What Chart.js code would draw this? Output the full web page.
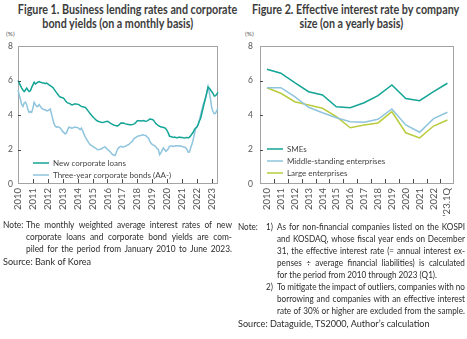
<!DOCTYPE html>
<html>
<head>
<meta charset="utf-8">
<script src="https://cdn.jsdelivr.net/npm/chart.js@4.4.0/dist/chart.umd.min.js"></script>
<style>
  body { margin: 0; width: 467px; height: 339px; background: #fff; position: relative; overflow: hidden;
         font-family: Lato, "Open Sans", sans-serif; color: #2b2b2b; }
  canvas { position: absolute; }
  .t { position: absolute; white-space: nowrap; }
  .title { font-weight: bold; font-size: 12.5px; color: #3c3c3c; text-align: center; line-height: 14px; }
  .title span { display: inline-block; transform: scaleX(0.86); transform-origin: center; }
  .unit { font-size: 6.5px; color: #555; }
  .line { position: absolute; white-space: nowrap; font-size: 9.6px; line-height: 12px; transform-origin: left top; }
  .line.just { display: flex; justify-content: space-between; }
</style>
</head>
<body>

<div class="t title" style="left:0; width:235px; top:3px;"><span>Figure 1. Business lending rates and corporate</span><br><span>bond yields (on a monthly basis)</span></div>
<div class="t title" style="left:235px; width:232px; top:3px;"><span>Figure 2. Effective interest rate by company</span><br><span>size (on a yearly basis)</span></div>

<div class="t unit" style="left:6px; top:30px;">(%)</div>
<div class="t unit" style="left:245px; top:30px;">(%)</div>

<canvas id="lending" width="230" height="192" style="left:0; top:30px;"></canvas>
<canvas id="effective" width="228" height="192" style="left:235px; top:30px;"></canvas>

<div id="notes"></div>

<script>
// monthly series, Jan 2010 - Jun 2023
var years = ['2010', '2011', '2012', '2013', '2014', '2015', '2016',
             '2017', '2018', '2019', '2020', '2021', '2022', '2023'];

var loanRates = [
  6.00, 5.85, 5.70, 5.56, 5.45, 5.36, 5.45, 5.56, 5.45, 5.36, 5.40, 5.60,
  5.75, 5.90, 5.80, 5.85, 5.90, 5.94, 5.90, 5.88, 5.85, 5.85, 5.82, 5.85,
  5.80, 5.75, 5.70, 5.65, 5.60, 5.50, 5.40, 5.30, 5.20, 5.10, 5.04, 5.02,
  5.00, 4.95, 4.85, 4.75, 4.70, 4.68, 4.65, 4.60, 4.60, 4.62, 4.65, 4.63,
  4.62, 4.60, 4.55, 4.50, 4.48, 4.46, 4.45, 4.38, 4.28, 4.18, 4.08, 4.00,
  3.92, 3.84, 3.77, 3.70, 3.65, 3.62, 3.60, 3.58, 3.57, 3.58, 3.60, 3.62,
  3.63, 3.60, 3.55, 3.50, 3.46, 3.42, 3.40, 3.38, 3.37, 3.40, 3.48, 3.54,
  3.52, 3.54, 3.50, 3.47, 3.46, 3.45, 3.44, 3.44, 3.45, 3.47, 3.50, 3.58,
  3.67, 3.66, 3.67, 3.65, 3.66, 3.68, 3.65, 3.64, 3.66, 3.70, 3.77, 3.76,
  3.74, 3.70, 3.60, 3.50, 3.45, 3.38, 3.35, 3.30, 3.30, 3.28, 3.26, 3.20,
  3.10, 2.95, 2.76, 2.75, 2.73, 2.70, 2.72, 2.70, 2.68, 2.70, 2.72, 2.70,
  2.70, 2.68, 2.67, 2.68, 2.70, 2.67, 2.72, 2.80, 2.90, 3.00, 3.15, 3.25,
  3.30, 3.45, 3.65, 3.80, 4.10, 4.40, 4.70, 5.00, 5.30, 5.62, 5.55, 5.45,
  5.35, 5.25, 5.10, 5.12, 5.20, 5.33
];

var bondYields = [
  5.46, 5.17, 4.90, 4.60, 4.50, 4.70, 4.75, 4.60, 4.30, 4.15, 4.20, 4.15,
  4.40, 4.73, 4.60, 4.50, 4.50, 4.60, 4.50, 4.40, 4.35, 4.30, 4.30, 4.25,
  4.25, 4.30, 4.35, 4.05, 3.75, 3.50, 3.35, 3.30, 3.32, 3.30, 3.25, 3.15,
  3.05, 2.98, 2.90, 2.95, 3.15, 3.30, 3.28, 3.24, 3.25, 3.28, 3.30, 3.28,
  3.28, 3.22, 3.15, 3.24, 3.10, 2.92, 2.75, 2.62, 2.50, 2.38, 2.28, 2.24,
  2.20, 2.14, 2.09, 2.05, 2.00, 1.99, 2.02, 2.03, 2.08, 2.12, 2.15, 2.08,
  2.00, 1.95, 1.88, 1.80, 1.72, 1.68, 1.65, 1.80, 2.00, 2.10, 2.15, 2.18,
  2.15, 2.15, 2.18, 2.20, 2.25, 2.28, 2.35, 2.42, 2.47, 2.60, 2.67, 2.70,
  2.76, 2.78, 2.80, 2.82, 2.85, 2.84, 2.82, 2.80, 2.72, 2.67, 2.50, 2.38,
  2.30, 2.25, 2.22, 2.15, 2.05, 2.00, 1.70, 1.80, 1.95, 2.09, 2.00, 1.90,
  1.95, 2.05, 2.18, 2.20, 2.20, 2.18, 2.20, 2.22, 2.22, 2.20, 2.22, 2.20,
  2.18, 2.15, 2.15, 2.10, 2.00, 1.84, 1.85, 2.10, 2.30, 2.57, 2.90, 3.20,
  3.30, 3.44, 3.70, 4.00, 4.30, 4.60, 4.80, 5.00, 5.30, 5.65, 5.30, 4.90,
  4.40, 4.20, 4.07, 4.10, 4.25, 4.40
];

// yearly series
var periods = ['2010', '2011', '2012', '2013', '2014', '2015', '2016',
               '2017', '2018', '2019', '2020', '2021', '2022', '\u201923.1Q'];
var smeRates    = [6.65, 6.42, 5.87, 5.35, 5.16, 4.48, 4.42, 4.71, 5.12, 5.74, 4.95, 4.83, 5.35, 5.84];
var middleRates = [5.58, 5.58, 5.06, 4.45, 4.13, 3.84, 3.61, 3.58, 3.75, 4.35, 3.42, 3.00, 3.79, 4.16];
var largeRates  = [5.58, 5.26, 4.77, 4.58, 4.39, 3.90, 3.26, 3.42, 3.54, 4.19, 2.97, 2.67, 3.36, 3.71];

var TEAL = '#14a596';
var SKY = '#8ec4dd';
var LIME = '#b9cc3e';

var monthLabels = [];
years.forEach(function (yr) {
  for (var m = 1; m <= 12; m++) monthLabels.push(yr + '.' + (m < 10 ? '0' + m : m));
});
monthLabels = monthLabels.slice(0, loanRates.length);

// footnote lines: [text, left, top, width, justified, scaleX]
var noteLines = [
  ['Note:', 3, 219, 0, false, 0.87],
  ['The monthly weighted average interest rates of new', 26, 219, 206, true, 0.87],
  ['corporate loans and corporate bond yields are com-', 26, 231, 206, true, 0.87],
  ['piled for the period from January 2010 to June 2023.', 26, 243, 206, true, 0.87],
  ['Source: Bank of Korea', 3, 256, 0, false, 0.95],
  ['Note:', 238, 221, 0, false, 0.85],
  ['1)', 266, 221, 0, false, 0.85],
  ['As for non-financial companies listed on the KOSPI', 277, 221, 188, true, 0.85],
  ['and KOSDAQ, whose fiscal year ends on December', 277, 233, 188, true, 0.85],
  ['31, the effective interest rate (= annual interest ex-', 277, 245, 188, true, 0.85],
  ['penses \u00f7 average financial liabilities) is calculated', 277, 257, 188, true, 0.85],
  ['for the period from 2010 through 2023 (Q1).', 277, 269, 0, false, 0.85],
  ['2)', 266, 281, 0, false, 0.85],
  ['To mitigate the impact of outliers, companies with no', 277, 281, 188, true, 0.85],
  ['borrowing and companies with an effective interest', 277, 293, 188, true, 0.85],
  ['rate of 30% or higher are excluded from the sample.', 277, 305, 188, true, 0.85],
  ['Source: Dataguide, TS2000, Author\u2019s calculation', 238, 318, 0, false, 0.95]
];

var notesBox = document.getElementById('notes');
noteLines.forEach(function (n) {
  var div = document.createElement('div');
  div.className = 'line' + (n[4] ? ' just' : '');
  div.style.left = n[1] + 'px';
  div.style.top = n[2] + 'px';
  div.style.transform = 'scaleX(' + n[5] + ')';
  if (n[4]) {
    div.style.width = (n[3] / n[5]) + 'px';
    n[0].split(' ').forEach(function (w) {
      var s = document.createElement('span');
      s.textContent = w;
      div.appendChild(s);
    });
  } else {
    div.textContent = n[0];
  }
  notesBox.appendChild(div);
});

Chart.defaults.font.family = 'Lato, sans-serif';
Chart.defaults.color = '#555';

// box around the plot area
var framePlugin = {
  id: 'frame',
  beforeDatasetsDraw: function (chart) {
    var a = chart.chartArea, ctx = chart.ctx;
    ctx.save();
    ctx.strokeStyle = '#a3a3a3';
    ctx.lineWidth = 1;
    ctx.strokeRect(Math.round(a.left) + 0.5, Math.round(a.top) + 0.5,
                   Math.round(a.right - a.left) - 1, Math.round(a.bottom - a.top) - 1);
    ctx.restore();
  }
};

// short tick marks drawn inward from the bottom and left edges
var innerTicksPlugin = {
  id: 'innerTicks',
  afterDatasetsDraw: function (chart, args, opts) {
    var ctx = chart.ctx, a = chart.chartArea;
    var xs = opts.positions(chart.scales.x);
    ctx.save();
    ctx.strokeStyle = '#4a4a4a';
    ctx.lineWidth = 1;
    ctx.beginPath();
    xs.forEach(function (px) {
      px = Math.round(px) + 0.5;
      ctx.moveTo(px, a.bottom - 1);
      ctx.lineTo(px, a.bottom - 5);
    });
    [2, 4, 6].forEach(function (v) {
      var py = Math.round(chart.scales.y.getPixelForValue(v)) + 0.5;
      ctx.moveTo(a.left, py);
      ctx.lineTo(a.left + 3, py);
    });
    ctx.stroke();
    ctx.restore();
  }
};

// legend placed inside the plot, lower left
var insideLegendPlugin = {
  id: 'insideLegend',
  afterDraw: function (chart, args, opts) {
    var ctx = chart.ctx;
    ctx.save();
    ctx.font = '8px Lato, sans-serif';
    ctx.textBaseline = 'middle';
    chart.data.datasets.forEach(function (ds, i) {
      var y = opts.y + i * opts.step;
      ctx.strokeStyle = ds.borderColor;
      ctx.lineWidth = 1.5;
      ctx.beginPath();
      ctx.moveTo(opts.x, y);
      ctx.lineTo(opts.x + 16, y);
      ctx.stroke();
      ctx.fillStyle = '#444';
      ctx.fillText(ds.label, opts.x + 20, y + 0.5);
    });
    ctx.restore();
  }
};

function rateAxis(width, pad) {
  return {
    min: 0, max: 8,
    ticks: { stepSize: 2, padding: pad, color: '#555', font: { size: 8.5 } },
    grid: { display: false, drawTicks: false },
    border: { display: false },
    afterFit: function (s) { s.width = width; }
  };
}

function baseOptions() {
  return {
    responsive: false,
    animation: false,
    devicePixelRatio: 1,
    elements: { point: { radius: 0 }, line: { borderWidth: 1.5, tension: 0 } },
    plugins: { legend: { display: false }, tooltip: { enabled: false } }
  };
}

var lendingOptions = baseOptions();
lendingOptions.layout = { autoPadding: false, padding: { top: 16, right: 12, left: 0, bottom: 0 } };
lendingOptions.scales = {
  x: {
    ticks: {
      autoSkip: false, maxRotation: 90, minRotation: 90, padding: 4,
      color: '#555', font: { size: 9.5 },
      callback: function (v, i) { return i % 12 === 0 ? years[i / 12] : null; }
    },
    grid: { display: false, drawTicks: false },
    border: { display: false },
    afterFit: function (s) { s.height = 38; }
  },
  y: rateAxis(18, 5)
};
lendingOptions.plugins.innerTicks = {
  positions: function (x) {
    return years.slice(1).map(function (yr, i) { return x.getPixelForValue((i + 1) * 12); });
  }
};
lendingOptions.plugins.insideLegend = { x: 33, y: 133, step: 12 };

new Chart(document.getElementById('lending'), {
  type: 'line',
  data: {
    labels: monthLabels,
    datasets: [
      { label: 'New corporate loans', data: loanRates, borderColor: TEAL },
      { label: 'Three-year corporate bonds (AA-)', data: bondYields, borderColor: SKY }
    ]
  },
  options: lendingOptions,
  plugins: [framePlugin, innerTicksPlugin, insideLegendPlugin]
});

var effectiveOptions = baseOptions();
effectiveOptions.layout = { autoPadding: false, padding: { top: 16, right: 5, left: 0, bottom: 0 } };
effectiveOptions.scales = {
  x: {
    offset: true,
    ticks: { autoSkip: false, maxRotation: 90, minRotation: 90, padding: 4, color: '#555', font: { size: 9.5 } },
    grid: { display: false, drawTicks: false },
    border: { display: false },
    afterFit: function (s) { s.height = 38; }
  },
  y: rateAxis(25, 7)
};
effectiveOptions.plugins.innerTicks = {
  positions: function (x) {
    return periods.slice(1).map(function (p, i) {
      return (x.getPixelForValue(i) + x.getPixelForValue(i + 1)) / 2;
    });
  }
};
effectiveOptions.plugins.insideLegend = { x: 32, y: 119, step: 12 };

new Chart(document.getElementById('effective'), {
  type: 'line',
  data: {
    labels: periods,
    datasets: [
      { label: 'SMEs', data: smeRates, borderColor: TEAL },
      { label: 'Middle-standing enterprises', data: middleRates, borderColor: SKY },
      { label: 'Large enterprises', data: largeRates, borderColor: LIME }
    ]
  },
  options: effectiveOptions,
  plugins: [framePlugin, innerTicksPlugin, insideLegendPlugin]
});
</script>
</body>
</html>
